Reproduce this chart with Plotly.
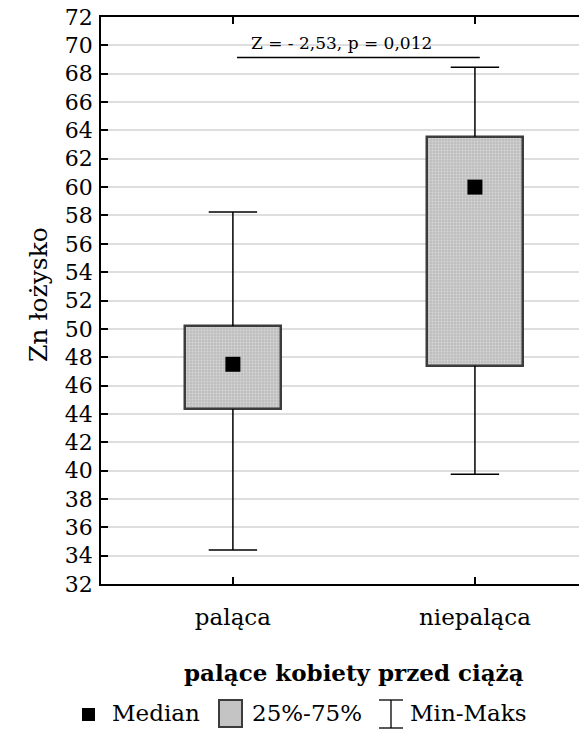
import plotly.graph_objects as go

categories = ["paląca", "niepaląca"]
medians = [47.5, 60.0]
q1 = [44.35, 47.4]
q3 = [50.2, 63.55]
mins = [34.4, 39.75]
maxs = [58.25, 68.45]
y_ticks = list(range(32, 73, 2))
stat_text = "Z = - 2,53, p = 0,012"
stat_y = 69.15
stat_x = [0.017, 1.02]

FONT = "DejaVu Serif"
xpos = list(range(len(categories)))
box_w = 0.4
cap_w = 0.2


def F(size, **kw):
    return dict(family=FONT, size=size, color="black", **kw)


fig = go.Figure()

# boxes (25%-75%)
fig.add_trace(go.Bar(
    x=xpos, base=q1, y=[b - a for a, b in zip(q1, q3)], width=box_w,
    marker=dict(color="#bdbdbd", line=dict(color="#3c3c3c", width=2.5),
                pattern=dict(shape=".", fgcolor="#f2f2f2", size=3, solidity=0.35)),
    showlegend=False, hoverinfo="skip"))

# whiskers
wx, wy = [], []
for i in xpos:
    wx += [i, i, None, i, i, None,
           i - cap_w / 2, i + cap_w / 2, None, i - cap_w / 2, i + cap_w / 2, None]
    wy += [q3[i], maxs[i], None, q1[i], mins[i], None,
           maxs[i], maxs[i], None, mins[i], mins[i], None]
fig.add_trace(go.Scatter(x=wx, y=wy, mode="lines", line=dict(color="black", width=1.5),
                         showlegend=False, hoverinfo="skip"))

# medians
fig.add_trace(go.Scatter(x=xpos, y=medians, mode="markers",
                         marker=dict(symbol="square", size=15, color="black"),
                         showlegend=False))

# stat line + text
fig.add_trace(go.Scatter(x=stat_x, y=[stat_y, stat_y], mode="lines",
                         line=dict(color="black", width=1.5), showlegend=False, hoverinfo="skip"))
fig.add_annotation(x=0.45, y=stat_y, yanchor="bottom", yshift=2, text=stat_text,
                   showarrow=False, font=F(17))

fig.update_layout(
    width=579, height=730,
    margin=dict(l=101, r=0, t=17, b=146),
    plot_bgcolor="white", paper_bgcolor="white",
    font=F(22),
    bargap=0,
    xaxis=dict(range=[-0.545, 1.43], tickvals=xpos, ticktext=categories,
               ticks="inside", ticklen=7, tickwidth=1.5, tickcolor="black",
               showline=True, linecolor="black", linewidth=1.5, mirror="ticks",
               showgrid=False, zeroline=False, tickfont=F(23), ticklabelstandoff=12),
    yaxis=dict(range=[32, 72], tickvals=y_ticks, ticks="inside", ticklen=7, tickwidth=1.5,
               tickcolor="black", showline=True, linecolor="black", linewidth=1.5,
               showgrid=True, gridcolor="#dedede", gridwidth=1.5, zeroline=False,
               tickfont=F(22), ticklabelstandoff=2),
)


# paper-coordinate helpers for titles and manual legend
def px2x(px):
    return (px - 101) / 478


def py2y(py):
    return (584 - py) / 567


fig.add_annotation(xref="paper", yref="paper", x=px2x(38), y=py2y(294), xanchor="center",
                   yanchor="middle", text="Zn łożysko", textangle=-90,
                   showarrow=False, font=F(25))
fig.add_annotation(xref="paper", yref="paper", x=px2x(354), y=py2y(672), xanchor="center",
                   yanchor="middle", text="<b>palące kobiety przed ciążą</b>",
                   showarrow=False, font=F(23))

ly = 713
fig.add_shape(type="rect", xref="paper", yref="paper",
              x0=px2x(82), x1=px2x(95), y0=py2y(721), y1=py2y(708),
              fillcolor="black", line=dict(width=0))
fig.add_annotation(xref="paper", yref="paper", x=px2x(110), y=py2y(ly), xanchor="left",
                   yanchor="middle", text="Median", showarrow=False, font=F(23))
fig.add_shape(type="rect", xref="paper", yref="paper",
              x0=px2x(219), x1=px2x(242), y0=py2y(727), y1=py2y(700),
              fillcolor="#c4c4c4", line=dict(color="#3c3c3c", width=2))
fig.add_annotation(xref="paper", yref="paper", x=px2x(250), y=py2y(ly), xanchor="left",
                   yanchor="middle", text="25%-75%", showarrow=False, font=F(23))
for (xa, ya, xb, yb) in [(379, 700, 403, 700), (391, 700, 391, 728),
                         (379, 728, 403, 728)]:
    fig.add_shape(type="line", xref="paper", yref="paper", x0=px2x(xa), y0=py2y(ya),
                  x1=px2x(xb), y1=py2y(yb), line=dict(color="black", width=1.3))
fig.add_annotation(xref="paper", yref="paper", x=px2x(408), y=py2y(ly), xanchor="left",
                   yanchor="middle", text="Min-Maks", showarrow=False, font=F(23))

fig.write_html("out.html")
